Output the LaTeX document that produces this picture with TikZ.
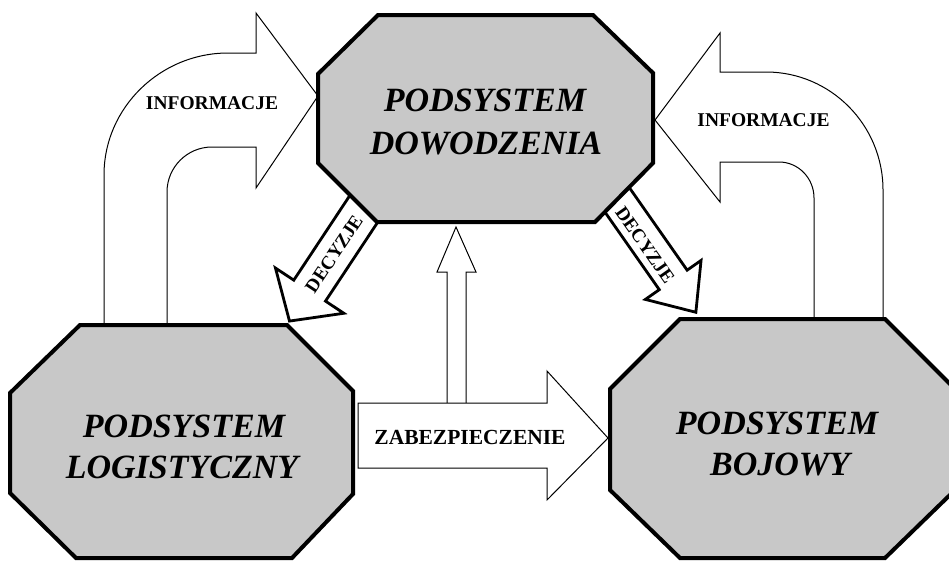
\documentclass[tikz,border=0pt]{standalone}
\usepackage{fontspec}
\setmainfont{Liberation Serif}
\definecolor{octgray}{RGB}{200,200,200}
\begin{document}
\begin{tikzpicture}[x=1pt,y=-1pt,
  octagon/.style={draw=black, line width=4pt, fill=octgray, line join=miter},
  thinarrow/.style={draw=black, line width=1pt, fill=white, line join=miter},
  decarrow/.style={draw=black, line width=2.8pt, fill=white, line join=miter},
  systext/.style={inner sep=0pt, font=\fontsize{34}{40}\selectfont\bfseries\itshape},
  flowtext/.style={inner sep=0pt, font=\fontsize{19.5}{22}\selectfont\bfseries},
  bigflowtext/.style={inner sep=0pt, font=\fontsize{21.5}{24}\selectfont\bfseries},
  dectext/.style={inner sep=0pt, font=\fontsize{19}{21}\selectfont\bfseries},
]
\useasboundingbox (0,0) rectangle (949,560);
\clip (0,0) rectangle (949,560);
\fill[white] (0,0) rectangle (949,560);

% information flow: logistics -> command (left bent arrow)
\draw[thinarrow] (104,325) -- (104,175)
  .. controls (104,107.5) and (160.5,53) .. (228,53)
  -- (256,53) -- (256,13) -- (318,96) -- (256,188) -- (256,147) -- (212,147)
  .. controls (187.2,147) and (167,167.2) .. (167,192) -- (167,325);
\node[flowtext] (infoL) at (212,103) {INFORMACJE};

% information flow: combat -> command (right bent arrow)
\draw[thinarrow] (883,319) -- (883,190)
  .. controls (883,124.9) and (830.6,72) .. (766,72)
  -- (720,72) -- (720,33) -- (655,120) -- (720,202) -- (720,162) -- (779,162)
  .. controls (798.3,162) and (814,178.1) .. (814,198) -- (814,319);
\node[flowtext] (infoR) at (763.5,120) {INFORMACJE};

% support flow to combat, with a branch up to command
\draw[thinarrow] (447,403) -- (447,272) -- (437,272) -- (456,227) -- (476,272) -- (466,272) -- (466,403);
\draw[thinarrow] (358,403) -- (547,403) -- (547,371) -- (608,438) -- (547,500) -- (547,468) -- (358,468) -- cycle;
\node[bigflowtext] (support) at (470,437.5) {ZABEZPIECZENIE};

% decisions: command -> logistics
\begin{scope}[shift={(364,208.5)}, rotate=236.5]
  \draw[decarrow] (-14,-19) -- (98.5,-19) -- (98.5,-41) -- (135,0) -- (98.5,41) -- (98.5,19) -- (-14,19) -- cycle;
\end{scope}
\node[dectext, rotate=56.5] (decL) at (334,254) {DECYZJE};

% decisions: command -> combat
\begin{scope}[shift={(619,202.5)}, rotate=-55]
  \draw[decarrow] (-14,-17) -- (94.5,-17) -- (94.5,-34) -- (134,0) -- (94.5,34) -- (94.5,17) -- (-14,17) -- cycle;
\end{scope}
\node[dectext, rotate=-55] (decR) at (645,245) {DECYZJE};

% the three subsystems
\draw[octagon] (378,15) -- (593,15) -- (653,73) -- (653,163) -- (595,222) -- (377,222) -- (318,163) -- (318,74) -- cycle;
\draw[octagon] (80,325) -- (287,325) -- (353,391) -- (353,494) -- (292,558) -- (76,558) -- (10,493) -- (10,393) -- cycle;
\draw[octagon] (680,319) -- (885,319) -- (955,389) -- (955,490) -- (885,558) -- (680,558) -- (610,490) -- (610,389) -- cycle;

\node[systext] (cmdA) at (485,100) {PODSYSTEM};
\node[systext] (cmdB) at (486,143) {DOWODZENIA};
\node[systext] (logA) at (184,426) {PODSYSTEM};
\node[systext] (logB) at (182,467) {LOGISTYCZNY};
\node[systext] (combA) at (777,423.5) {PODSYSTEM};
\node[systext] (combB) at (780,464) {BOJOWY};
\end{tikzpicture}
\end{document}
